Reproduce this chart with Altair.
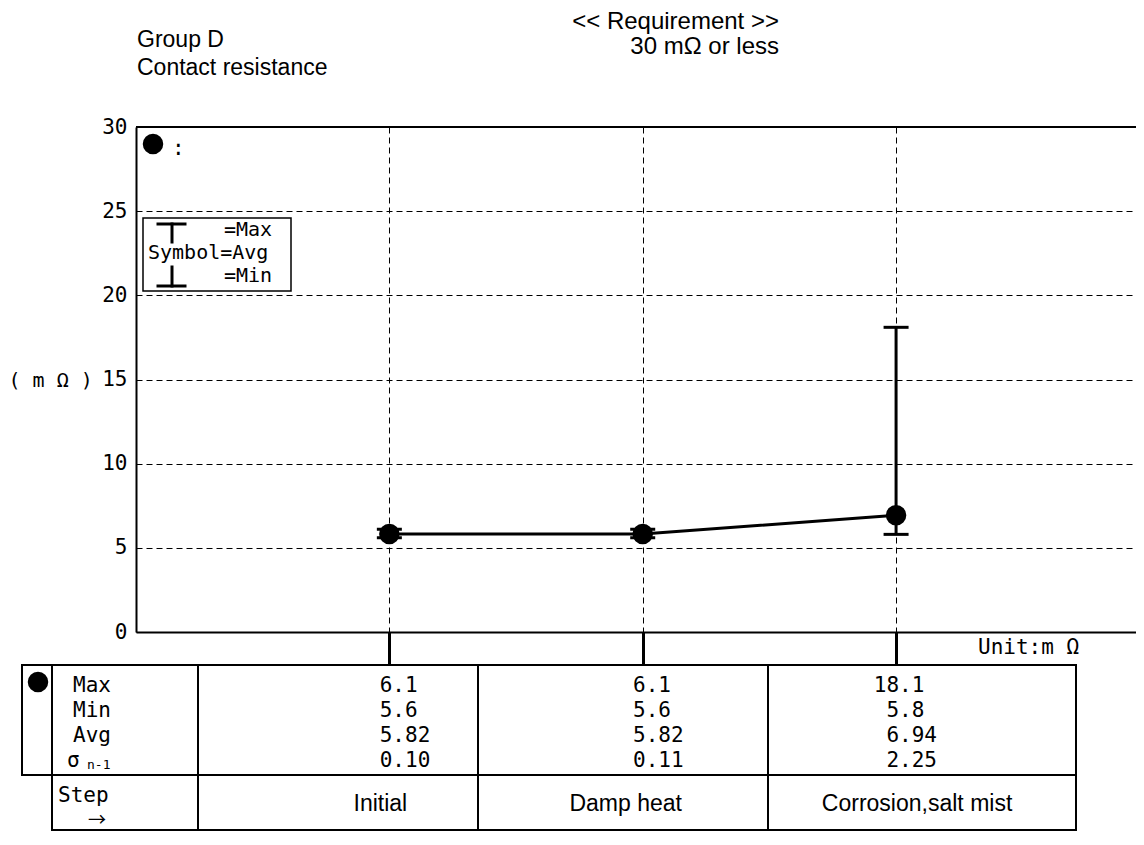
import altair as alt
import pandas as pd

# ---------------- data ----------------
steps = ["Initial", "Damp heat", "Corrosion,salt mist"]
step_idx = [1, 2, 3]
max_vals = [6.1, 6.1, 18.1]
min_vals = [5.6, 5.6, 5.8]
avg_vals = [5.82, 5.82, 6.94]
sd_vals = [0.10, 0.11, 2.25]
stat_names = ["Max", "Min", "Avg", "σ"]
stat_decimals = [1, 1, 2, 2]
y_ticks = [0, 5, 10, 15, 20, 25, 30]
title_lines = ["Group D", "Contact resistance"]
req_lines = ["<< Requirement >>", "30 mΩ or less"]
y_title = "( m Ω )"
unit_text = "Unit:m Ω"
legend_texts = ["=Max", "Symbol=Avg", "=Min"]

MONO = "DejaVu Sans Mono"
SANS = "Liberation Sans"
CJK = "Noto Sans CJK JP"

df = pd.DataFrame({"idx": step_idx, "step": steps, "max": max_vals,
                   "min": min_vals, "avg": avg_vals, "sd": sd_vals})

rows = []
for i, mx, mn, av, sd in zip(step_idx, max_vals, min_vals, avg_vals, sd_vals):
    for stat, v, dec in zip(stat_names, [mx, mn, av, sd], stat_decimals):
        s = f"{v:.{dec}f}"
        ip, fp = s.split(".")
        rows.append({"idx": i, "stat": stat, "ip": ip, "fp": "." + fp})
tdf = pd.DataFrame(rows)

one = pd.DataFrame({"k": [0]})

# ---------------- scales / axes ----------------
x_scale = alt.Scale(domain=[0, 3.947], nice=False, zero=False)
x_axis = alt.Axis(values=[1, 2, 3], labels=False, title=None, tickSize=33,
                  tickWidth=3, tickColor="black", grid=True, gridDash=[6, 4],
                  gridColor="black", gridWidth=1, gridOpacity=1,
                  domainColor="black", domainWidth=2)
x_enc = alt.X("idx:Q", scale=x_scale, axis=x_axis)

y_scale = alt.Scale(domain=[0, 30], nice=False)
y_axis = alt.Axis(values=y_ticks, ticks=False, labelPadding=9, labelFont=MONO,
                  labelFontSize=21, labelColor="black", grid=True,
                  gridDash=[6, 4], gridColor="black", gridWidth=1, gridOpacity=1,
                  domainColor="black", domainWidth=2, title=y_title,
                  titleAngle=0, titleAlign="left", titleBaseline="middle",
                  titleX=-128, titleY=253, titleFont=MONO, titleFontSize=20,
                  titleFontWeight="normal", titleColor="black")


def Y(field):
    return alt.Y(field, scale=y_scale, axis=y_axis)


def txt(s, x, y, font=SANS, size=23, align="left", baseline="alphabetic"):
    return alt.Chart(one).mark_text(text=s, font=font, fontSize=size, align=align,
                                    baseline=baseline, color="black").encode(
        x=alt.value(x), y=alt.value(y))


def seg(x1, y1, x2, y2, w=2):
    enc = {"x": alt.value(x1), "y": alt.value(y1)}
    if x2 != x1:
        enc["x2"] = alt.value(x2)
    if y2 != y1:
        enc["y2"] = alt.value(y2)
    return alt.Chart(one).mark_rule(color="black", strokeWidth=w,
                                    strokeCap="square").encode(**enc)


# ---------------- main plot ----------------
base = alt.Chart(df)
top_rule = alt.Chart(pd.DataFrame({"v": [30]})).mark_rule(
    color="black", strokeWidth=2).encode(y=Y("v:Q"), x=alt.value(0), x2=alt.value(1000))
line = base.mark_line(color="black", strokeWidth=3).encode(x=x_enc, y=Y("avg:Q"))
err = base.mark_rule(color="black", strokeWidth=3).encode(x=x_enc, y=Y("max:Q"), y2="min:Q")
cap_max = base.mark_tick(color="black", orient="horizontal", size=25, thickness=3,
                         opacity=1).encode(x=x_enc, y=Y("max:Q"))
cap_min = base.mark_tick(color="black", orient="horizontal", size=25, thickness=3,
                         opacity=1).encode(x=x_enc, y=Y("min:Q"))
pts = base.mark_point(filled=True, shape="circle", color="black", size=420,
                      opacity=1).encode(x=x_enc, y=Y("avg:Q"))
main = alt.layer(top_rule, line, err, cap_max, cap_min, pts)

# ---------------- table values ----------------
y_t = alt.Y("stat:N", scale=alt.Scale(domain=stat_names, range=[565, 640], padding=0),
            axis=None)
tbase = alt.Chart(tdf)
ints = tbase.mark_text(align="right", baseline="alphabetic", font=MONO, fontSize=21,
                       dx=3, color="black").encode(x=x_enc, y=y_t, text="ip:N")
fracs = tbase.mark_text(align="left", baseline="alphabetic", font=MONO, fontSize=21,
                        dx=3, color="black").encode(x=x_enc, y=y_t, text="fp:N")
lab_df = pd.DataFrame({"stat": stat_names[:3]})
row_labels = alt.Chart(lab_df).mark_text(align="left", baseline="alphabetic", font=MONO,
                                         fontSize=21, color="black").encode(
    x=alt.value(-63), y=y_t, text="stat:N")
sig_df = pd.DataFrame({"stat": [stat_names[3]], "sub": ["n-1"]})
sigma = alt.Chart(sig_df).mark_text(align="left", baseline="alphabetic", font=MONO,
                                    fontSize=21, color="black").encode(
    x=alt.value(-69), y=y_t, text="stat:N")
sub = alt.Chart(sig_df).mark_text(align="left", baseline="alphabetic", font=MONO,
                                  fontSize=13, dy=2, color="black").encode(
    x=alt.value(-49), y=y_t, text="sub:N")
table = alt.layer(ints, fracs, row_labels, sigma, sub)

# step names sit in their table cells, slightly off the tick positions
step_labels = base.mark_text(align="center", baseline="alphabetic", font=SANS,
                             fontSize=23, color="black",
                             dx=alt.expr("[-9, -17, 21][datum.idx - 1]")).encode(
    x=x_enc, y=alt.value(684), text="step:N")

# ---------------- decorations ----------------
decor = [
    txt(title_lines[0], 1, -80),
    txt(title_lines[1], 1, -52),
    txt(req_lines[0], 643, -98, size=24, align="right"),
    txt(req_lines[1], 643, -73, size=24, align="right"),
    txt(unit_text, 842, 521, font=MONO, size=21, baseline="middle"),
    # legend box
    alt.Chart(one).mark_rect(fill="white", stroke="black", strokeWidth=1.5).encode(
        x=alt.value(7), x2=alt.value(155), y=alt.value(91), y2=alt.value(164)),
    seg(22, 97, 49, 97, 3), seg(36, 97, 36, 115, 3),
    seg(36, 140, 36, 159, 3), seg(22, 159, 49, 159, 3),
    txt(legend_texts[0], 88, 103, font=MONO, size=20, baseline="middle"),
    txt(legend_texts[1], 12, 126, font=MONO, size=20, baseline="middle"),
    txt(legend_texts[2], 88, 149, font=MONO, size=20, baseline="middle"),
    alt.Chart(one).mark_point(filled=True, shape="circle", color="black", size=420,
                              opacity=1).encode(x=alt.value(17), y=alt.value(17)),
    txt(":", 36, 22, font=MONO, size=21, baseline="middle"),
    # table frame
    seg(-114, 538, 940, 538), seg(-114, 648, 940, 648), seg(-84, 703, 940, 703),
    seg(-114, 538, -114, 648), seg(-84, 538, -84, 703), seg(62, 538, 62, 703),
    seg(342, 538, 342, 703), seg(632, 538, 632, 703), seg(940, 538, 940, 703),
    alt.Chart(one).mark_point(filled=True, shape="circle", color="black", size=420,
                              opacity=1).encode(x=alt.value(-98), y=alt.value(555)),
    txt("Step", -78, 675, font=MONO, size=21),
    txt("→", -39, 694, font=CJK, size=18, align="center", baseline="middle"),
]

chart = alt.layer(main, table, step_labels, *decor).resolve_scale(
    y="independent"
).properties(
    width=1000, height=505,
    padding={"left": 128, "top": 119, "right": 0, "bottom": 200},
    autosize=alt.AutoSizeParams(type="none"),
    background="white",
).configure_view(stroke=None)

chart.save("out.html", embed_options={"renderer": "svg", "actions": False})
